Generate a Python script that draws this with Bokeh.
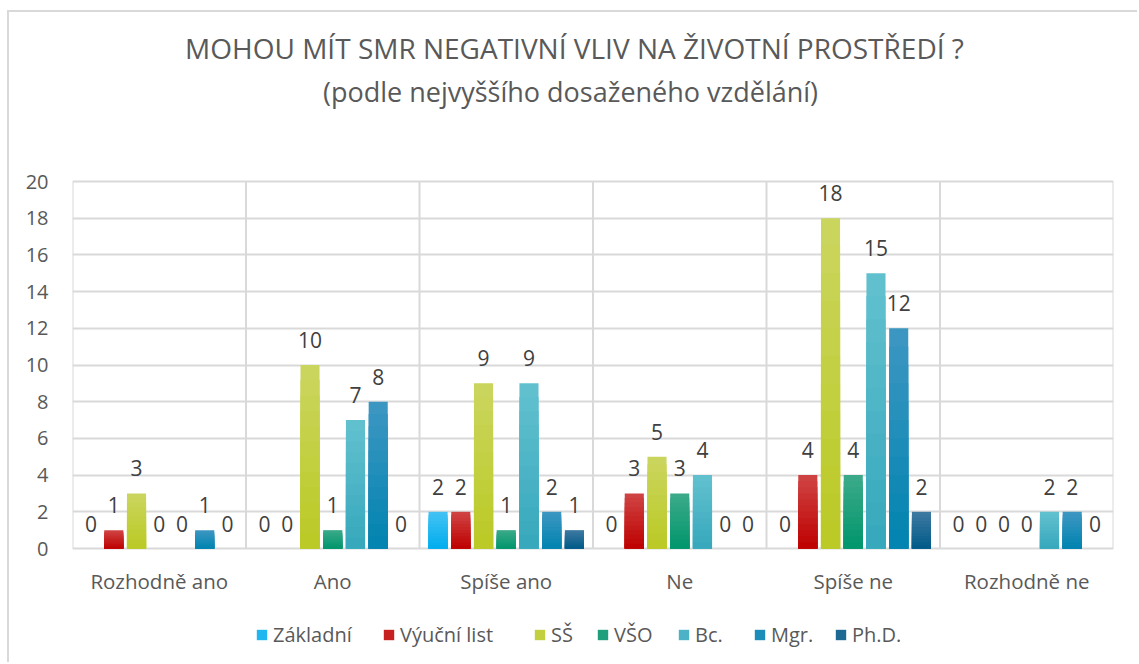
from bokeh.plotting import figure
from bokeh.models import (ColumnDataSource, Range1d, FixedTicker, Legend, LegendItem,
                          LabelSet, Label)
from bokeh.core.properties import value
from bokeh.transform import dodge
from bokeh.embed import file_html
from bokeh.resources import INLINE

# ---- data ----
categories = ["Rozhodně ano", "Ano", "Spíše ano", "Ne", "Spíše ne", "Rozhodně ne"]
series = ["Základní", "Výuční list", "SŠ", "VŠO", "Bc.", "Mgr.", "Ph.D."]
zakladni = [0, 0, 2, 0, 0, 0]
vyucni_list = [1, 0, 2, 3, 4, 0]
ss = [3, 10, 9, 5, 18, 0]
vso = [0, 1, 1, 3, 4, 0]
bc = [0, 7, 9, 4, 15, 2]
mgr = [1, 8, 2, 0, 12, 2]
phd = [0, 0, 1, 0, 2, 0]
y_ticks = [0, 2, 4, 6, 8, 10, 12, 14, 16, 18, 20]
title_text = "MOHOU MÍT SMR NEGATIVNÍ VLIV NA ŽIVOTNÍ PROSTŘEDÍ ?"
subtitle_text = "(podle nejvyššího dosaženého vzdělání)"

values = [zakladni, vyucni_list, ss, vso, bc, mgr, phd]
# (top colour, bottom colour) of each series' gradient fill
grad = [("#45C3F4", "#00ADEE"), ("#D04545", "#BE0000"), ("#CBD660", "#BAC923"),
        ("#3DAA8A", "#00966C"), ("#63C1CF", "#36A8BC"), ("#3E97C2", "#0083B0"),
        ("#3F7AA2", "#005A88")]
keys = ["s%d" % i for i in range(len(series))]


def mix(c1, c2, t):
    a = [int(c1[i:i + 2], 16) for i in (1, 3, 5)]
    b = [int(c2[i:i + 2], 16) for i in (1, 3, 5)]
    return "#" + "".join("%02x" % round(x + (y - x) * t) for x, y in zip(a, b))


centers = [i + 0.5 for i in range(len(categories))]
data = {"x": centers, "cat": categories, "zero": [0] * len(categories)}
K = 12
for k, v in zip(keys, values):
    data[k] = v
    data[k + "_t"] = [str(a) for a in v]
    for j in range(1, K + 1):
        data["%s_f%d" % (k, j)] = [a * j / K for a in v]
source = ColumnDataSource(data)

FONT = "Open Sans"
TXT = "#595959"
W, H = 1130, 652
ML, MR = 63, 26
ymax = y_ticks[-1]
px_per_unit = 18.35          # vertical scale of the value axis
top_space = 169              # canvas px above the value 20 (titles)
bottom_space = 116           # canvas px below the value 0 (categories + legend)
y_top = ymax + top_space / px_per_unit
y_bottom = -bottom_space / px_per_unit

p = figure(width=W, height=H, output_backend="svg", toolbar_location=None,
           x_axis_type=None,
           x_range=Range1d(0, len(categories)), y_range=Range1d(y_bottom, y_top),
           min_border_left=ML, min_border_right=MR, min_border_top=0,
           min_border_bottom=0)
p.outline_line_color = None
p.background_fill_color = "white"
p.border_fill_color = "white"
p.styles = {"margin-left": "7px", "margin-top": "10px",
            "border-left": "2px solid #D9D9D9", "border-top": "2px solid #D9D9D9"}

# grid: horizontal lines at the ticks, vertical lines between categories (0..20 only)
p.ygrid.ticker = FixedTicker(ticks=y_ticks)
p.ygrid.grid_line_color = "#D9D9D9"
p.ygrid.grid_line_width = 2
bounds = list(range(len(categories) + 1))
p.segment(x0=bounds, x1=bounds, y0=[0] * len(bounds), y1=[ymax] * len(bounds),
          line_color="#D9D9D9", line_width=2)

# titles
p.add_layout(Label(x=502, y=H - 35, x_units="screen", y_units="screen",
                   text=title_text, text_align="center", text_baseline="middle",
                   text_font=FONT, text_font_size="28px", text_color=TXT))
p.add_layout(Label(x=498, y=H - 79, x_units="screen", y_units="screen",
                   text=subtitle_text, text_align="center", text_baseline="middle",
                   text_font=FONT, text_font_size="27px", text_color=TXT))

stride = 0.131
bw = 0.11
n = len(series)
legend_x = [183, 310, 461, 524, 605, 681, 762]
for i, (k, name, (ctop, cbot)) in enumerate(zip(keys, series, grad)):
    off = (i - (n - 1) / 2) * stride
    xs = dodge("x", off, range=p.x_range)
    mid_r = None
    # overlapping bars from the base: tallest (lightest) first, shorter darker on top
    for j in range(K, 0, -1):
        col = mix(cbot, ctop, (j - 0.5) / K)
        r = p.vbar(x=xs, bottom=0, top="%s_f%d" % (k, j), width=bw,
                   source=source, fill_color=col, line_color=None)
        if j == K // 2:
            mid_r = r
    lbl = LabelSet(x=xs, y=k, text=k + "_t", source=source,
                   text_align="center", text_baseline="alphabetic", y_offset=17,
                   text_font=value(FONT), text_font_size="21px", text_color="#404040")
    p.add_layout(lbl)
    leg = Legend(items=[LegendItem(label=name, renderers=[mid_r])],
                 orientation="horizontal", location=(legend_x[i], 16),
                 label_text_font=FONT, label_text_font_size="20px",
                 label_text_color=TXT, glyph_width=13, glyph_height=13,
                 label_standoff=5, border_line_color=None,
                 background_fill_alpha=0, margin=0, padding=0)
    p.add_layout(leg, "center")

# category labels under the value 0 line
p.add_layout(LabelSet(x="x", y="zero", text="cat", source=source, y_offset=-32,
                      text_align="center", text_baseline="middle",
                      text_font=value(FONT), text_font_size="20.5px", text_color=TXT))

# value axis
p.yaxis.ticker = FixedTicker(ticks=y_ticks)
p.yaxis.axis_line_color = None
p.yaxis.major_tick_line_color = None
p.yaxis.minor_tick_line_color = None
p.yaxis.major_label_text_font = FONT
p.yaxis.major_label_text_font_size = "20px"
p.yaxis.major_label_text_color = TXT
p.yaxis.major_label_standoff = 18

open("out.html", "w").write(file_html(p, INLINE))
